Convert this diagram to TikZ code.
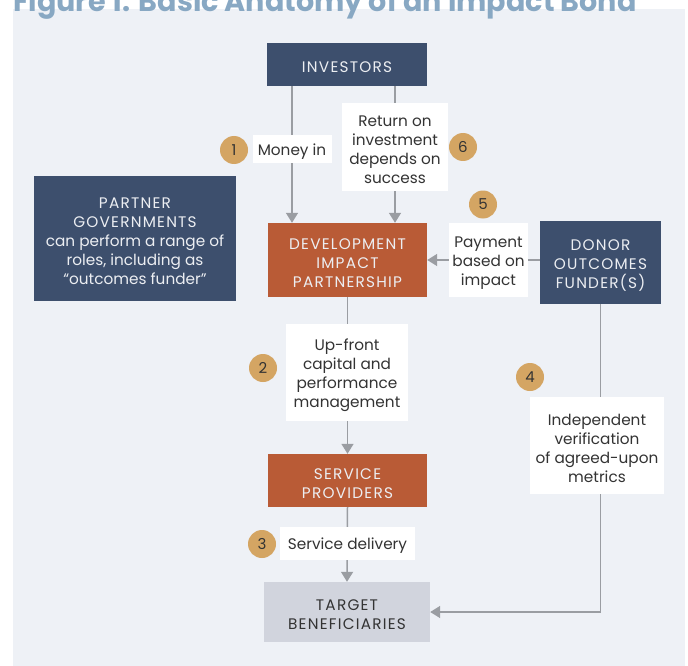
\documentclass[tikz,border=0pt]{standalone}
\usepackage{fontspec}
\setmainfont{Poppins}
\usetikzlibrary{arrows.meta}
\definecolor{panel}{HTML}{EEF1F6}
\definecolor{navy}{HTML}{3D4F6D}
\definecolor{rust}{HTML}{B95B36}
\definecolor{tgt}{HTML}{D1D4DD}
\definecolor{lineg}{HTML}{9A9DA2}
\definecolor{badge}{HTML}{D4A563}
\definecolor{ttl}{HTML}{88A8C3}
\definecolor{txt}{HTML}{333333}
\definecolor{lighttxt}{HTML}{ECEEF2}
\newfontfamily\capsfont[LetterSpace=8]{Poppins}
\newcommand\toppad{\rule{0pt}{16.5pt}}
\begin{document}
\begin{tikzpicture}[x=1pt,y=-1pt,
  base/.style={inner sep=0pt, align=center, font=\fontsize{15.3}{19}\selectfont},
  capsbase/.style={base, font=\fontsize{15.3}{19}\capsfont},
  navybox/.style={capsbase, fill=navy, text=lighttxt},
  rustbox/.style={capsbase, fill=rust, text=lighttxt},
  tgtbox/.style={capsbase, fill=tgt, text=txt},
  lbl/.style={base, fill=white, text=txt},
  badgec/.style={circle, fill=badge, text=txt, minimum size=28pt, inner sep=0pt, font=\fontsize{15}{15}\selectfont},
  arr/.style={draw=lineg, line width=1.5pt, -{Triangle[width=12pt,length=10pt]}}
]
\useasboundingbox (0,0) rectangle (688,666);
\fill[white] (0,0) rectangle (688,666);
\fill[panel] (13,9) rectangle (685,666);
\node[anchor=base west, inner sep=0pt, font=\fontsize{28.6}{28.6}\selectfont\bfseries, text=ttl] (title) at (13,12) {Figure 1: Basic Anatomy of an Impact Bond};

% boxes
\node[navybox, minimum width=160, minimum height=43] (inv) at (347,64.5) {\toppad INVESTORS};
\node[rustbox, minimum width=159, minimum height=74] (dip) at (347.5,260) {\toppad DEVELOPMENT\\IMPACT\\PARTNERSHIP};
\node[navybox, minimum width=202, minimum height=125] (pg) at (135,238.5) {\toppad PARTNER\\GOVERNMENTS\\{\rmfamily can perform a range of}\\{\rmfamily roles, including as}\\{\rmfamily “outcomes funder”}};
\node[navybox, minimum width=121, minimum height=83] (donor) at (600.5,262.5) {\toppad DONOR\\OUTCOMES\\FUNDER(S)};
\node[rustbox, minimum width=159, minimum height=53] (sp) at (347.5,480.5) {\toppad SERVICE\\PROVIDERS};
\node[tgtbox, minimum width=166, minimum height=60] (tb) at (347,612) {\toppad TARGET\\BENEFICIARIES};

% label positions (coordinates for lines)
\coordinate (mx) at (292,149);
\coordinate (rx) at (395,147);

% connectors
\draw[arr] (mx |- inv.south) -- (mx |- dip.north);
\draw[arr] (rx |- inv.south) -- (rx |- dip.north);
\draw[arr] (donor.west |- dip.east) -- (dip.east);
\draw[arr] (dip.south) -- (sp.north);
\draw[arr] (sp.south) -- (tb.north);
\draw[arr] (donor.south) -- (donor.south |- tb.east) -- (tb.east);

% labels
\node[lbl, minimum width=79, minimum height=28] (money) at (mx) {\toppad Money in};
\node[lbl, minimum width=106, minimum height=88] (ret) at (rx) {\toppad Return on\\investment\\depends on\\success};
\node[lbl, minimum width=79, minimum height=74] (pay) at (488.5,260) {\toppad Payment\\based on\\impact};
\node[lbl, minimum width=122, minimum height=97] (up) at (347,372.5) {\toppad Up-front\\capital and\\performance\\management};
\node[lbl, minimum width=134, minimum height=97] (ver) at (597,445.5) {\toppad Independent\\verification\\of agreed-upon\\metrics};
\node[lbl, minimum width=135, minimum height=33] (sd) at (347.5,543.5) {\toppad Service delivery};

% badges
\node[badgec] (b1) at (234,150) {1};
\node[badgec] (b6) at (463,147) {6};
\node[badgec] (b5) at (483,204.5) {5};
\node[badgec] (b2) at (263,368) {2};
\node[badgec] (b4) at (530,377) {4};
\node[badgec] (b3) at (262,544) {3};
\end{tikzpicture}
\end{document}
